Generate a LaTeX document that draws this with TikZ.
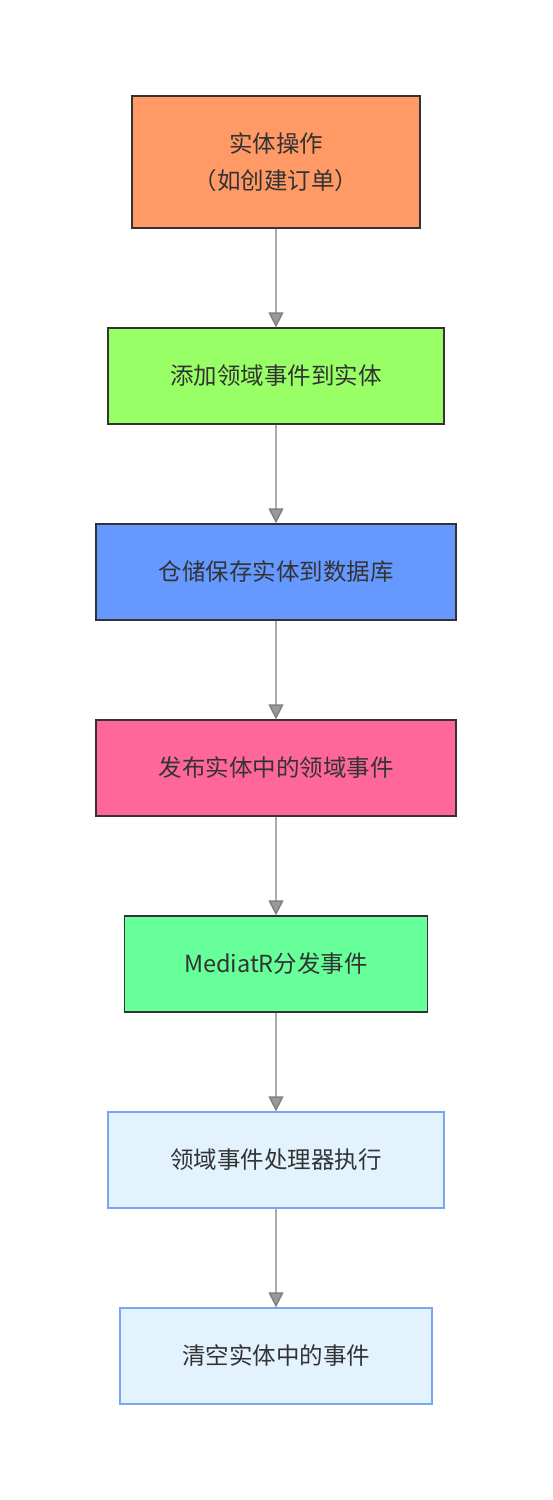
\documentclass[tikz,border=0pt]{standalone}
\usepackage{fontspec}
\newfontfamily\cjk{Noto Sans CJK SC}
\usetikzlibrary{arrows.meta}
\definecolor{laranja}{HTML}{FF9966}
\definecolor{verdeA}{HTML}{99FF66}
\definecolor{azul}{HTML}{6699FF}
\definecolor{rosa}{HTML}{FF6699}
\definecolor{verdeB}{HTML}{66FF99}
\definecolor{claro}{HTML}{E3F3FD}
\definecolor{borda}{HTML}{79A5F5}
\definecolor{texto}{HTML}{333333}
\begin{document}
\begin{tikzpicture}[x = 1pt, y = -1pt,
  bloco/.style = {draw=texto, line width=1.3pt, rectangle, inner sep=0pt, minimum height=96pt,
    text=texto, align=center, font=\cjk\fontsize{23.5}{37}\selectfont},
  leve/.style = {bloco, draw=borda, fill=claro},
  seta/.style = {draw=gray!65, line width=1.5pt, -{Triangle[length=15pt,width=15pt,color=gray,fill=gray!80]}},]

\useasboundingbox (0,0) rectangle (552,1500);

\node[bloco, fill=laranja, minimum width=288pt, minimum height=132pt] (A) at (276,162) {实体操作\\（如创建订单）};
\node[bloco, fill=verdeA, minimum width=336pt] (B) at (276,376) {添加领域事件到实体};
\node[bloco, fill=azul, minimum width=360pt] (C) at (276,572) {仓储保存实体到数据库};
\node[bloco, fill=rosa, minimum width=360pt] (D) at (276,768) {发布实体中的领域事件};
\node[bloco, fill=verdeB, minimum width=303pt] (E) at (276,964) {MediatR分发事件};
\node[leve, minimum width=336pt] (F) at (276,1160) {领域事件处理器执行};
\node[leve, minimum width=312pt] (G) at (276,1356) {清空实体中的事件};

\draw[seta] (A) -- (B);
\draw[seta] (B) -- (C);
\draw[seta] (C) -- (D);
\draw[seta] (D) -- (E);
\draw[seta] (E) -- (F);
\draw[seta] (F) -- (G);

\end{tikzpicture}
\end{document}
